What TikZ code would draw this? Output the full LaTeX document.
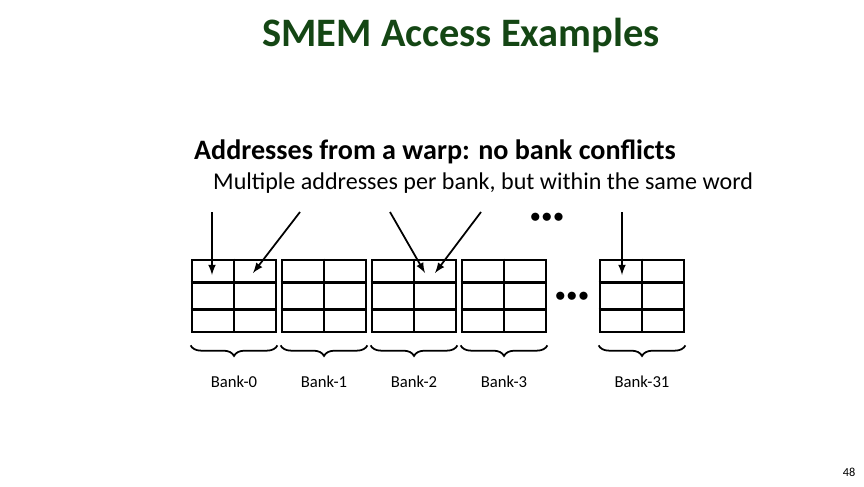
\documentclass[tikz,border=0pt]{standalone}
\usepackage{fontspec}
\setmainfont{Carlito}
\usetikzlibrary{positioning, decorations.pathreplacing}
\definecolor{titlegreen}{RGB}{20,70,20}
\tikzstyle{bank}  = [draw, line width=1.6pt, minimum width=1.68cm, minimum height=1.44cm, inner sep=0pt]
\tikzstyle{->}    = [draw, line width=1pt, -latex]
\tikzstyle{brace} = [draw, line width=1pt, decorate, decoration={brace, mirror, amplitude=6pt}]
\tikzstyle{lbl}   = [font=\fontsize{9.5}{11}\selectfont]
\tikzstyle{dots}  = [font=\fontsize{12}{12}\selectfont\bfseries]

\begin{document}
\begin{tikzpicture}[x=0.02cm, y=-0.02cm]
\useasboundingbox (0,0) rectangle (864,486);

% texts
\node [text=titlegreen, font=\fontsize{23}{27}\selectfont\bfseries] at (461, 36) (title) {SMEM Access Examples};
\node [anchor=west, font=\fontsize{16}{19}\selectfont\bfseries] at (188,152) (head) {Addresses from a warp: no bank conflicts};
\node [anchor=west, font=\fontsize{13.7}{16}\selectfont] at (207,183) (sub) {Multiple addresses per bank, but within the same word};

% banks
\foreach \n/\x/\t in {b0/234/Bank-0, b1/324/Bank-1, b2/414/Bank-2, b3/504/Bank-3, b31/642/Bank-31} {
  \node [bank] at (\x,296) (\n) {};
  \draw [line width=1.6pt] (\n.north) -- (\n.south);
  \draw [line width=1.6pt] ([yshift=-0.48cm]\n.north west) -- ([yshift=-0.48cm]\n.north east);
  \draw [line width=1.6pt] ([yshift=0.48cm]\n.south west) -- ([yshift=0.48cm]\n.south east);
  \path [brace] ([yshift=-0.24cm]\n.south west) -- ([yshift=-0.24cm]\n.south east);
  \node [lbl] at (\x,382) {\t};
}

\node [dots] at (547,218) (dtop) {$\bullet\!\bullet\!\bullet$};
\node [dots] at (572,297) (dmid) {$\bullet\!\bullet\!\bullet$};

% arrows
\coordinate (s0) at (212,212);
\coordinate (s1) at (300,212);
\coordinate (s2) at (390,212);
\coordinate (s3) at (481,212);
\coordinate (s4) at (622,212);
\coordinate (t0) at (212,275);
\coordinate (t1) at (253,273);
\coordinate (t2) at (425,273);
\coordinate (t3) at (435,273);
\coordinate (t4) at (622,275);
\foreach \i in {0,...,4} \path [->] (s\i) -- (t\i);

\node [font=\fontsize{7}{8}\selectfont] at (849,472) (page) {48};
\end{tikzpicture}
\end{document}
